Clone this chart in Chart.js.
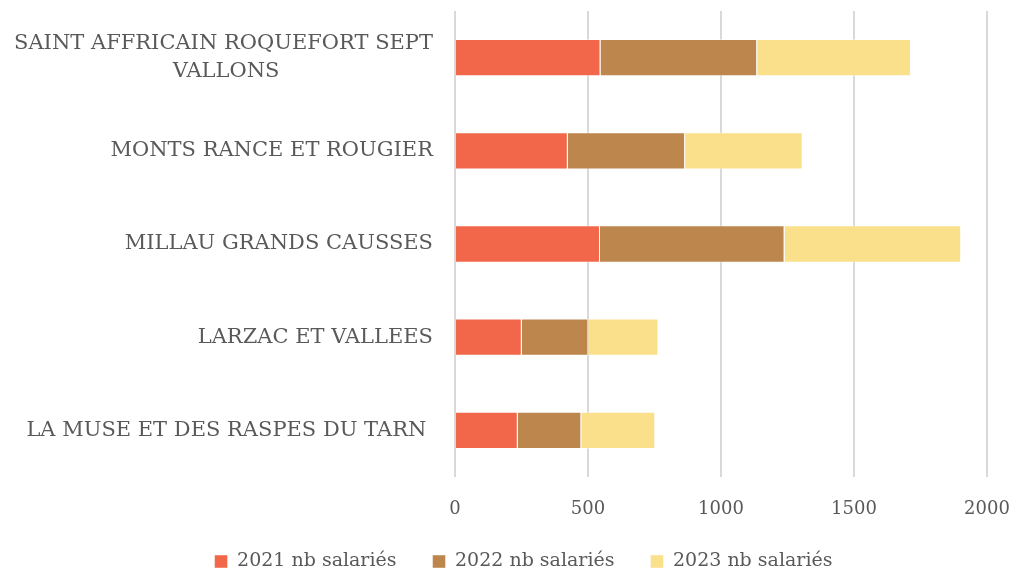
<!DOCTYPE html>
<html>
<head>
  <meta charset="utf-8">
  <title>Nombre de salariés par communauté de communes</title>
  <script src="https://cdn.jsdelivr.net/npm/chart.js"></script>
  <style>
    html, body {
      margin: 0;
      background: #ffffff;
    }
    #chart-box {
      width: 1020px;
      height: 574px;
    }
  </style>
</head>
<body>
  <div id="chart-box">
    <canvas id="salariesChart"></canvas>
  </div>

  <script>
    // second line padded with trailing spaces so it sits centred under the first
    const territoires = [
      ["SAINT AFFRICAIN ROQUEFORT SEPT", "VALLONS                       "],
      "MONTS RANCE ET ROUGIER",
      "MILLAU GRANDS CAUSSES",
      "LARZAC ET VALLEES",
      "LA MUSE ET DES RASPES DU TARN "
    ];
    const salaries2021 = [547, 424, 545, 251, 236];
    const salaries2022 = [589, 441, 694, 250, 239];
    const salaries2023 = [578, 442, 664, 264, 278];
    const xTicks = [0, 500, 1000, 1500, 2000];

    const textColor = "#595959";
    const fontFamily = "'DejaVu Serif', serif";

    function serie(label, data, color) {
      return {
        label: label,
        data: data,
        backgroundColor: color,
        borderColor: "rgba(255,255,255,0.45)",
        borderWidth: 1,
        categoryPercentage: 0.4,
        barPercentage: 1.0
      };
    }

    // legend sits a little right of the canvas centre
    const legendShift = {
      id: "legendShift",
      afterLayout(chart) {
        chart.legend.left += 30;
        chart.legend.right += 30;
      }
    };

    const ctx = document.getElementById("salariesChart").getContext("2d");
    new Chart(ctx, {
      type: "bar",
      data: {
        labels: territoires,
        datasets: [
          serie("2021 nb salariés", salaries2021, "#f2674a"),
          serie("2022 nb salariés", salaries2022, "#bc864c"),
          serie("2023 nb salariés", salaries2023, "#fae08a")
        ]
      },
      options: {
        indexAxis: "y",
        responsive: true,
        maintainAspectRatio: false,
        animation: false,
        layout: {
          padding: { top: 11, right: 33, bottom: -7, left: 0 }
        },
        scales: {
          x: {
            stacked: true,
            min: 0,
            max: 2000,
            afterBuildTicks: axis => {
              axis.ticks = xTicks.map(v => ({ value: v }));
            },
            afterFit: scale => {
              scale.height = 39;
              scale.paddingLeft = 0;
              scale.paddingRight = 0;
            },
            grid: {
              color: "#d9d9d9",
              lineWidth: 2,
              drawTicks: false
            },
            border: { display: false },
            ticks: {
              color: textColor,
              padding: 22,
              font: { family: fontFamily, size: 18 },
              callback: value => String(value)
            }
          },
          y: {
            stacked: true,
            grid: { display: false },
            border: { display: false },
            afterFit: scale => {
              scale.width = 455;
              scale.paddingTop = 0;
              scale.paddingBottom = 0;
            },
            ticks: {
              color: textColor,
              padding: 14,
              font: { family: fontFamily, size: 21, lineHeight: 1.33 }
            }
          }
        },
        plugins: {
          legend: {
            position: "bottom",
            labels: {
              color: textColor,
              boxWidth: 13,
              boxHeight: 13,
              padding: 36,
              font: { family: fontFamily, size: 19 }
            }
          },
          tooltip: { enabled: false }
        }
      },
      plugins: [legendShift]
    });
  </script>
</body>
</html>
